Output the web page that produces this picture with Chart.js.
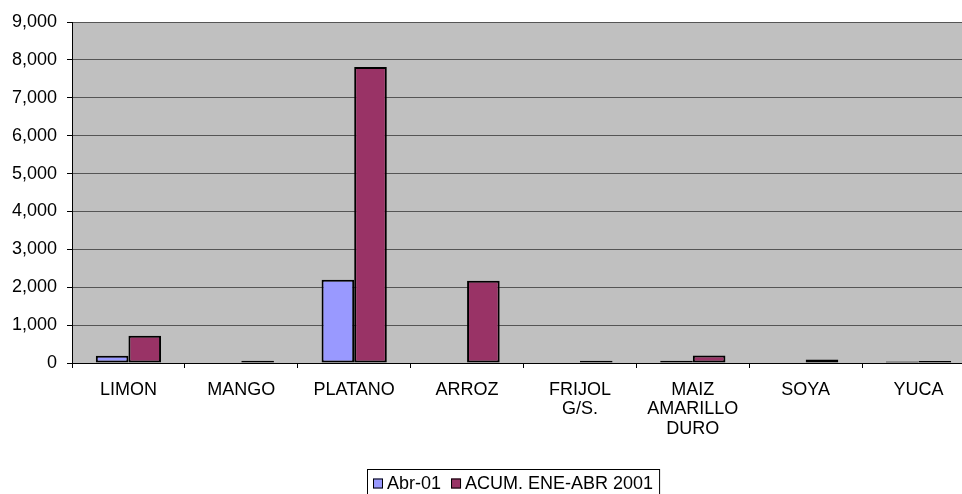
<!DOCTYPE html>
<html>
<head>
<meta charset="utf-8">
<script src="https://cdn.jsdelivr.net/npm/chart.js@4/dist/chart.umd.min.js"></script>
<style>
  html, body { margin: 0; padding: 0; background: #fff; overflow: hidden; }
  #wrap { width: 975px; height: 494px; }
</style>
</head>
<body>
<div id="wrap"><canvas id="cropChart" width="975" height="494"></canvas></div>
<script>
const categories = ["LIMON", "MANGO", "PLATANO", "ARROZ", ["FRIJOL", "G/S."], ["MAIZ", "AMARILLO", "DURO"], "SOYA", "YUCA"];
const abr01 = [190, 0, 2200, 0, 0, 60, 0, 40];
const acumEneAbr = [720, 60, 7810, 2170, 60, 200, 90, 50];
const seriesNames = ["Abr-01", "ACUM. ENE-ABR 2001"];
const seriesColors = ["#9999ff", "#993366"];

const plotBg = {
  id: "plotBg",
  beforeDraw(chart) {
    const { ctx, chartArea: a } = chart;
    ctx.save();
    ctx.fillStyle = "#c0c0c0";
    ctx.fillRect(a.left, a.top, a.right - a.left, a.bottom - a.top);
    ctx.restore();
  }
};

// legend with a frame round it, like the original
const boxedLegend = {
  id: "boxedLegend",
  afterDraw(chart) {
    const ctx = chart.ctx;
    ctx.save();
    ctx.font = "18px 'Liberation Sans', Arial, sans-serif";
    ctx.textBaseline = "middle";
    const box = 10, gap = 4, sep = 10, pad = 6;
    let total = pad * 2;
    seriesNames.forEach((n, i) => {
      total += box + gap + ctx.measureText(n).width + (i < seriesNames.length - 1 ? sep : 0);
    });
    const cx = 513;
    let x = Math.round(cx - total / 2);
    const top = 469, h = 30;
    ctx.strokeStyle = "#000";
    ctx.lineWidth = 1;
    ctx.strokeRect(x + 0.5, top + 0.5, total, h);
    x += pad;
    const my = 483.5;
    seriesNames.forEach((n, i) => {
      ctx.fillStyle = seriesColors[i];
      ctx.fillRect(x, my - box / 2, box, box);
      ctx.strokeRect(x + 0.5, my - box / 2 + 0.5, box - 1, box - 1);
      x += box + gap;
      ctx.fillStyle = "#000";
      ctx.fillText(n, x, my + 0.5);
      x += ctx.measureText(n).width + sep;
    });
    ctx.restore();
  }
};

new Chart(document.getElementById("cropChart").getContext("2d"), {
  type: "bar",
  data: {
    labels: categories,
    datasets: [
      { label: seriesNames[0], data: abr01, backgroundColor: seriesColors[0], borderColor: "#000", borderWidth: 2, borderSkipped: false },
      { label: seriesNames[1], data: acumEneAbr, backgroundColor: seriesColors[1], borderColor: "#000", borderWidth: 2, borderSkipped: false }
    ]
  },
  options: {
    responsive: false,
    animation: false,
    devicePixelRatio: 1,
    layout: { padding: { top: 22, left: 0, right: 0, bottom: 0 } },
    datasets: { bar: { categoryPercentage: 0.578, barPercentage: 1 } },
    plugins: { legend: { display: false }, tooltip: { enabled: false } },
    scales: {
      x: {
        afterFit: s => { s.height = 131; },
        grid: { offset: true, drawOnChartArea: false, tickLength: 5, tickColor: "#000" },
        border: { color: "#000", width: 1 },
        ticks: {
          color: "#000",
          padding: 12,
          maxRotation: 0,
          autoSkip: false,
          font: { family: "'Liberation Sans', Arial", size: 18, lineHeight: 1.08 }
        }
      },
      y: {
        min: 0,
        max: 9000,
        afterFit: s => { s.width = 72; },
        grid: { color: "#555", lineWidth: 1, tickLength: 5, tickColor: "#000" },
        border: { color: "#000", width: 1 },
        ticks: {
          stepSize: 1000,
          color: "#000",
          padding: 10,
          font: { family: "'Liberation Sans', Arial", size: 18 },
          callback: v => v.toLocaleString("en-US")
        }
      }
    }
  },
  plugins: [plotBg, boxedLegend]
});
</script>
</body>
</html>
